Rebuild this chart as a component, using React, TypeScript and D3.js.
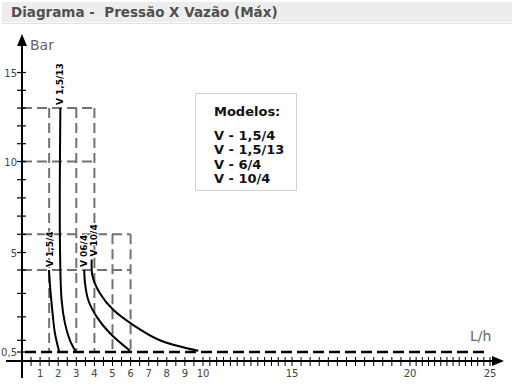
import * as d3 from 'd3';

// Eixos
const flowLabels = [1, 2, 3, 4, 5, 6, 7, 8, 9, 10, 15, 20, 25];
const pressureLabels = [0.5, 5, 10, 15];
const pressureMinor = [1, 2, 3, 4, 6, 7, 8, 9, 11, 12, 13, 14];

// Curvas (vazão L/h, pressão bar)
const curveV15_4: [number, number][] = [[1.49, 4.0], [1.55, 3.3], [1.67, 2.3], [1.82, 1.3], [2.06, 0.5]];
const curveV15_13: [number, number][] = [[2.12, 13], [2.09, 9], [2.1, 5.2], [2.19, 2.7], [2.38, 1.7], [2.65, 1.0], [2.98, 0.5]];
const curveV06_4: [number, number][] = [[3.44, 4.0], [3.48, 3.44], [3.66, 2.72], [4.13, 2.0], [4.86, 1.3], [5.97, 0.55]];
const curveV10_4: [number, number][] = [[3.85, 4.6], [3.9, 3.72], [4.31, 3.0], [5.04, 2.3], [6.15, 1.65], [7.62, 1.0], [9.74, 0.55]];

const curveNames = ['V 1,5/4', 'V 1,5/13', 'V 06/4', 'V 10/4'];
const legendItems = ['V - 1,5/4', 'V - 1,5/13', 'V - 6/4', 'V - 10/4'];

// Limites (caixas tracejadas)
const boxH = [
  { p: 13, q0: 0, q1: 4 },
  { p: 10, q0: 0, q1: 4 },
  { p: 6, q0: 0, q1: 6 },
  { p: 4, q0: 0, q1: 6 },
];
const boxV = [
  { q: 1.5, p0: 0.5, p1: 13 },
  { q: 3, p0: 0.5, p1: 13 },
  { q: 4, p0: 0.5, p1: 13 },
  { q: 5, p0: 0.5, p1: 6 },
  { q: 6, p0: 0.5, p1: 6 },
];
const minPressure = 0.5;
const maxFlow = 25;

export default function App() {
  const width = 514;
  const height = 387;

  // escalas em trechos (o desenho original não é linear)
  const x = d3.scaleLinear().domain([0, 10, 15, 20, 25]).range([22, 203, 292, 410, 490]);
  const y = d3.scaleLinear().domain([0, 0.5, 4, 5, 10, 15]).range([361, 352, 270, 252.5, 161.5, 72.5]);

  const line = d3.line<[number, number]>()
    .x(d => x(d[0]))
    .y(d => y(d[1]))
    .curve(d3.curveCatmullRom);

  const curves = [curveV15_4, curveV15_13, curveV06_4, curveV10_4];
  const labelDx = [3.7, 2.8, 3, 5];

  const flowMinor = [
    ...d3.range(0.5, 10, 0.5),
    ...d3.range(1, 39).map(i => 10 + i * (15 / 39)),
  ].filter(v => !flowLabels.includes(v));

  const gray = '#727272';
  const fmt = (v: number) => String(v).replace('.', ',');

  return (
    <svg width={width} height={height} style={{ position: 'absolute', left: 0, top: 0, background: '#fff' }}>
      {/* título */}
      <rect x={2} y={2} width={510} height={20} fill="#ededed" />
      <line x1={2} x2={512} y1={23.5} y2={23.5} stroke="#e2e2e2" />
      <text x={11} y={17} fontFamily="'DejaVu Sans', sans-serif" fontWeight="bold" fontSize={13.5} fill="#505050" style={{ whiteSpace: 'pre' }}>
        Diagrama -  Pressão X Vazão (Máx)
      </text>

      {/* caixas tracejadas */}
      {boxH.map((b, i) => (
        <line key={'h' + i} x1={x(b.q0)} x2={x(b.q1)} y1={y(b.p)} y2={y(b.p)} stroke={gray} strokeWidth={2} strokeDasharray="10,5" />
      ))}
      {boxV.map((b, i) => (
        <line key={'v' + i} x1={x(b.q)} x2={x(b.q)} y1={y(b.p1)} y2={y(b.p0)} stroke={gray} strokeWidth={2} strokeDasharray="10,5" />
      ))}
      <line x1={x(0) + 3} x2={x(maxFlow) - 3} y1={y(minPressure)} y2={y(minPressure)} stroke="#000" strokeWidth={2.5} strokeDasharray="11,5" />

      {/* eixos */}
      <line x1={x(0)} x2={x(0)} y1={44} y2={378} stroke="#000" strokeWidth={2} />
      <path d={`M${x(0) - 5},46 L${x(0)},34 L${x(0) + 5},46 Z`} fill="#000" />
      <line x1={6} x2={494} y1={y(0)} y2={y(0)} stroke="#000" strokeWidth={2} />
      <path d={`M492,${y(0) - 5} L504,${y(0)} L492,${y(0) + 5} Z`} fill="#000" />

      {pressureMinor.concat(pressureLabels).map(v => (
        <line key={'yt' + v} x1={x(0) - 5} x2={x(0) + 4} y1={y(v)} y2={y(v)} stroke="#000" strokeWidth={1.2} />
      ))}
      {pressureLabels.map(v => (
        <text key={'yl' + v} x={x(0) - 5} y={y(v) + 4} textAnchor="end" fontFamily="'DejaVu Sans', sans-serif" fontSize={10} fill="#444">
          {fmt(v)}
        </text>
      ))}
      {flowMinor.concat(flowLabels).map((v, i) => (
        <line key={'xt' + i} x1={x(v)} x2={x(v)} y1={y(0) - 4} y2={y(0) + 5} stroke="#000" strokeWidth={1} />
      ))}
      {flowLabels.map(v => (
        <text key={'xl' + v} x={x(v)} y={y(0) + 16} textAnchor="middle" fontFamily="'DejaVu Sans', sans-serif" fontSize={10} fill="#444">
          {v}
        </text>
      ))}

      <text x={30} y={50} fontFamily="'DejaVu Sans', sans-serif" fontSize={14} fill="#666">Bar</text>
      <text x={470} y={341} fontFamily="'DejaVu Sans', sans-serif" fontSize={14} fill="#666">L/h</text>

      {/* curvas */}
      {curves.map((c, i) => (
        <path key={'c' + i} d={line(c) || ''} fill="none" stroke="#000" strokeWidth={2} />
      ))}
      {curves.map((c, i) => (
        <text
          key={'t' + i}
          transform={`translate(${x(c[0][0]) + labelDx[i]},${y(c[0][1]) - 3}) rotate(-90)`}
          fontFamily="'DejaVu Sans', sans-serif"
          fontWeight="bold"
          fontSize={9}
          fill="#000"
          stroke="#fff"
          strokeWidth={2}
          paintOrder="stroke"
        >
          {curveNames[i]}
        </text>
      ))}

      {/* legenda */}
      <rect x={195.5} y={93.5} width={101} height={97} fill="#fff" stroke="#d0d0d0" />
      <text x={214} y={116} fontFamily="'DejaVu Sans', sans-serif" fontWeight="bold" fontSize={13} fill="#111">Modelos:</text>
      {legendItems.map((t, i) => (
        <text key={t} x={214} y={140 + i * 14.3} fontFamily="'DejaVu Sans', sans-serif" fontWeight="bold" fontSize={13} fill="#111">
          {t}
        </text>
      ))}
    </svg>
  );
}
